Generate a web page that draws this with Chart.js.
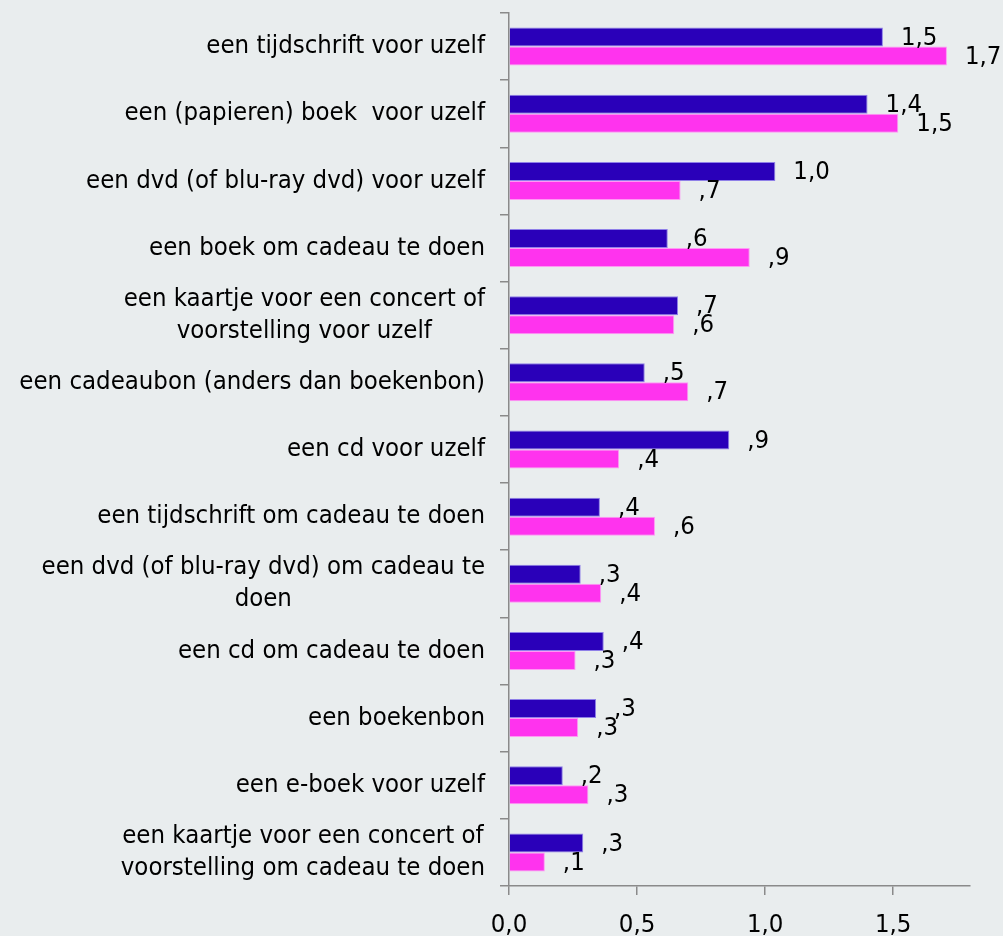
<!DOCTYPE html>
<html lang="nl">
<head>
<meta charset="utf-8">
<title>Aankopen</title>
<script src="https://cdn.jsdelivr.net/npm/chart.js@4/dist/chart.umd.min.js"></script>
<style>
  html, body { margin: 0; padding: 0; background: #e9edee; }
  canvas { display: block; }
</style>
</head>
<body>
<canvas id="c" width="1003" height="936"></canvas>
<script>
// Categorieën (van boven naar onder)
const categories = [
  "een tijdschrift voor uzelf",
  "een (papieren) boek  voor uzelf",
  "een dvd (of blu-ray dvd) voor uzelf",
  "een boek om cadeau te doen",
  ["een kaartje voor een concert of", "voorstelling voor uzelf"],
  "een cadeaubon (anders dan boekenbon)",
  "een cd voor uzelf",
  "een tijdschrift om cadeau te doen",
  ["een dvd (of blu-ray dvd) om cadeau te", "doen"],
  "een cd om cadeau te doen",
  "een boekenbon",
  "een e-boek voor uzelf",
  ["een kaartje voor een concert of", "voorstelling om cadeau te doen"]
];

// Gemiddeld aantal per reeks
const seriesA = [1.46, 1.40, 1.04, 0.62, 0.66, 0.53, 0.86, 0.355, 0.28, 0.37, 0.34, 0.21, 0.29];
const seriesB = [1.71, 1.52, 0.67, 0.94, 0.645, 0.70, 0.43, 0.57, 0.36, 0.26, 0.27, 0.31, 0.14];

// As-instellingen
const axisMin = 0;
const axisMax = 1.8;
const axisStep = 0.5;

const FONT = { family: "'DejaVu Sans Condensed', 'DejaVu Sans', Verdana, sans-serif", size: 25.5, lineHeight: 1.26 };
const AXIS_COLOR = '#8a8a8a';
const BG = '#e9edee';

function fmtValue(v) {
  // 0.7 -> ",7" ; 1.5 -> "1,5"
  return (Math.round(v * 10) / 10).toFixed(1).replace('.', ',').replace(/^0(?=,)/, '');
}

const background = {
  id: 'background',
  beforeDraw(chart) {
    const { ctx, width, height } = chart;
    ctx.save();
    ctx.fillStyle = BG;
    ctx.fillRect(0, 0, width, height);
    ctx.restore();
  }
};

// Meerregelige categorielabels onderling centreren
const centerMultiline = {
  id: 'centerMultiline',
  beforeDraw(chart) {
    const scale = chart.scales.y;
    const items = scale.getLabelItems(chart.chartArea);
    const ctx = chart.ctx;
    ctx.save();
    items.forEach(item => {
      if (Array.isArray(item.label) && item.options.textAlign === 'right') {
        ctx.font = item.font.string;
        const w = Math.max(...item.label.map(l => ctx.measureText(l).width));
        item.options.textAlign = 'center';
        item.options.translation[0] -= w / 2;
      }
    });
    ctx.restore();
  }
};

// Waardelabels rechts van de staven
const valueLabels = {
  id: 'valueLabels',
  afterDatasetsDraw(chart) {
    const { ctx } = chart;
    ctx.save();
    ctx.font = `${FONT.size}px ${FONT.family}`;
    ctx.fillStyle = '#000';
    ctx.textAlign = 'left';
    ctx.textBaseline = 'middle';
    chart.data.datasets.forEach((ds, i) => {
      const meta = chart.getDatasetMeta(i);
      meta.data.forEach((bar, j) => {
        ctx.fillText(fmtValue(ds.data[j]), bar.x + 18, bar.y + 1);
      });
    });
    ctx.restore();
  }
};

new Chart(document.getElementById('c'), {
  type: 'bar',
  data: {
    labels: categories,
    datasets: [
      { label: 'reeks A', data: seriesA, backgroundColor: '#2a00b9',
        borderColor: '#8f80e8', borderWidth: 1,
        categoryPercentage: 0.566, barPercentage: 1.0 },
      { label: 'reeks B', data: seriesB, backgroundColor: '#ff33ee',
        borderColor: '#ff99f4', borderWidth: 1,
        categoryPercentage: 0.566, barPercentage: 1.0 }
    ]
  },
  options: {
    indexAxis: 'y',
    responsive: false,
    devicePixelRatio: 1,
    animation: false,
    layout: { padding: { top: 13, right: 33, bottom: 0, left: 0 } },
    plugins: {
      legend: { display: false },
      tooltip: { enabled: false }
    },
    scales: {
      x: {
        min: axisMin,
        max: axisMax,
        afterFit(scale) {
          scale.height = 50;
          scale.paddingLeft = 0;
          scale.paddingRight = 0;
        },
        afterBuildTicks(scale) {
          scale.ticks = scale.ticks.filter(t => Math.abs(t.value / axisStep - Math.round(t.value / axisStep)) < 1e-6);
        },
        ticks: {
          stepSize: axisStep,
          includeBounds: false,
          color: '#000',
          font: FONT,
          padding: 14,
          maxRotation: 0,
          callback: v => Number(v).toFixed(1).replace('.', ',')
        },
        grid: { drawOnChartArea: false, drawTicks: true, tickLength: 9, color: AXIS_COLOR, lineWidth: 1.5 },
        border: { display: true, color: AXIS_COLOR, width: 1.5 }
      },
      y: {
        afterFit(scale) {
          scale.width = 509;
          scale.paddingTop = 0;
          scale.paddingBottom = 0;
        },
        ticks: { color: '#000', font: FONT, padding: 15, autoSkip: false },
        grid: { drawOnChartArea: false, drawTicks: true, tickLength: 9, offset: true, color: AXIS_COLOR, lineWidth: 1.5 },
        border: { display: true, color: AXIS_COLOR, width: 1.5 }
      }
    }
  },
  plugins: [background, centerMultiline, valueLabels]
});
</script>
</body>
</html>
